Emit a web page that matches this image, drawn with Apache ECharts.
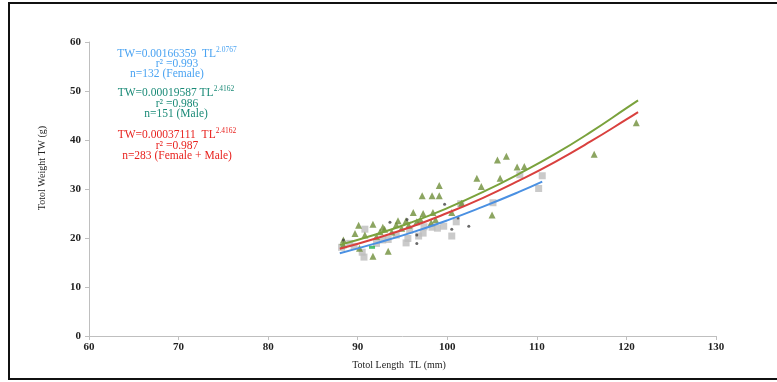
<!DOCTYPE html>
<html><head><meta charset="utf-8">
<script src="https://cdn.jsdelivr.net/npm/echarts@6/dist/echarts.min.js"></script>
<style>html,body{margin:0;padding:0;background:#fff}#c{width:777px;height:382px}</style>
</head><body><div id="c"></div>
<script>
// Data
var xTicks = [60, 70, 80, 90, 100, 110, 120, 130];
var yTicks = [0, 10, 20, 30, 40, 50, 60];

var triangles = [[88.4,18.6],[88.4,19.6],[89.7,20.9],[90.1,22.6],[90.2,17.9],[90.8,20.6],[91.7,22.8],[91.7,16.3],[92.1,20.3],[92.5,21.3],[92.8,22.2],[93.0,21.8],[93.4,17.3],[93.8,21.2],[94.3,22.7],[94.5,23.5],[94.9,22.0],[95.4,23.5],[95.7,22.6],[96.2,25.2],[96.6,23.3],[97.0,23.8],[97.2,28.6],[97.3,25.0],[98.2,23.1],[98.3,28.6],[98.4,25.2],[98.7,23.7],[99.1,28.6],[99.1,30.7],[100.5,25.2],[101.6,27.1],[103.3,32.2],[103.8,30.5],[105.0,24.7],[105.6,35.9],[105.9,32.2],[106.6,36.7],[107.8,34.5],[108.6,34.6],[116.4,37.1],[121.1,43.5]];

var squares = [[88.2,18.1],[89.1,18.9],[89.6,18.3],[90.5,17.1],[90.7,16.1],[90.8,21.8],[92.1,18.9],[92.8,19.6],[93.4,19.7],[94.3,20.6],[95.4,19.0],[95.6,19.9],[95.8,21.6],[96.8,20.4],[97.3,21.0],[97.4,22.3],[98.3,22.2],[98.9,22.0],[99.6,22.4],[100.5,20.4],[101.0,23.3],[101.5,27.0],[105.1,27.2],[108.1,32.9],[110.2,30.1],[110.6,32.7]];

var dots = [[88.4,19.6],[93.6,23.2],[95.5,23.8],[96.6,18.9],[96.6,20.6],[99.7,26.9],[100.5,21.8],[101.2,24.1],[102.4,22.4]];

var greenSquare = [[91.6,18.1]];

var curveTL = [88, 92, 96, 100, 104, 108, 112, 116, 120, 121.3];
var maleCurve = [18.6, 20.7, 23.2, 26.1, 29.4, 33.1, 37.1, 41.6, 46.5, 48.1];
var allCurve = [17.8, 19.9, 22.3, 25.1, 28.2, 31.7, 35.5, 39.7, 44.2, 45.7];
var femaleTL = [88, 92, 96, 100, 104, 108, 110.6];
var femaleCurve = [16.9, 18.9, 21.1, 23.6, 26.4, 29.4, 31.5];

function pairs(xs, ys){ return xs.map(function(x,i){ return [x, ys[i]]; }); }

var serif = '"Liberation Serif","DejaVu Serif",serif';
var chart = echarts.init(document.getElementById('c'), null, {renderer:'canvas'});

function eqText(x, y, main, sup, color){
  return {type:'text', x:x, y:y, z:10, style:{
    text:'{m|' + main + '}{s|' + sup + '}', align:'center', verticalAlign:'middle',
    rich:{ m:{fontFamily:serif, fontSize:11.5, fill:color, color:color},
           s:{fontFamily:serif, fontSize:7.5, fill:color, color:color, verticalAlign:'top', padding:[0,0,7,0]} }
  }};
}
function plainText(x, y, t, color){
  return {type:'text', x:x, y:y, z:10, style:{text:t, fontFamily:serif, fontSize:11.5, fill:color, align:'center', verticalAlign:'middle'}};
}

var blueT = '#4aa3f2', tealT = '#1a8a77', redT = '#e8231f';

chart.setOption({
  animation:false,
  backgroundColor:'#fff',
  grid:{left:89, right:61, top:42, bottom:46, containLabel:false},
  xAxis:{type:'value', min:60, max:130, interval:10,
    axisLine:{show:true, lineStyle:{color:'#bfbfbf', width:1}},
    axisTick:{show:true, length:4, lineStyle:{color:'#bfbfbf'}},
    splitLine:{show:false},
    axisLabel:{fontFamily:serif, fontSize:11, color:'#222', margin:6, fontWeight:'bold'}
  },
  yAxis:{type:'value', min:0, max:60, interval:10,
    axisLine:{show:true, lineStyle:{color:'#bfbfbf', width:1}},
    axisTick:{show:true, length:4, lineStyle:{color:'#bfbfbf'}},
    splitLine:{show:false},
    axisLabel:{fontFamily:serif, fontSize:11, color:'#222', margin:8, fontWeight:'bold'}
  },
  graphic:[
    {type:'rect', shape:{x:9, y:3, width:790, height:376}, style:{fill:'none', stroke:'#111', lineWidth:2}, z:0},
    {type:'text', x:42, y:168, rotation:Math.PI/2, style:{text:'Totol Weight TW (g)', fontFamily:serif, fontSize:10, fill:'#222', align:'center', verticalAlign:'middle'}},
    {type:'text', x:399, y:365, style:{text:'Totol Length  TL (mm)', fontFamily:serif, fontSize:10, fill:'#222', align:'center', verticalAlign:'middle'}},
    eqText(177, 54, 'TW=0.00166359  TL', '2.0767', blueT),
    plainText(177, 64, 'r\u00b2 =0.993', blueT),
    plainText(167, 74, 'n=132 (Female)', blueT),
    eqText(176, 93, 'TW=0.00019587 TL', '2.4162', tealT),
    plainText(177, 104, 'r\u00b2 =0.986', tealT),
    plainText(176, 114, 'n=151 (Male)', tealT),
    eqText(177, 135, 'TW=0.00037111  TL', '2.4162', redT),
    plainText(177, 146, 'r\u00b2 =0.987', redT),
    plainText(177, 156, 'n=283 (Female + Male)', redT)
  ],
  series:[
    {type:'scatter', data:squares, symbol:'rect', symbolSize:7, itemStyle:{color:'#bdbdbd'}, z:2},
    {type:'scatter', data:triangles, symbol:'triangle', symbolSize:7, itemStyle:{color:'#6f8f3a'}, z:3},
    {type:'scatter', data:dots, symbol:'circle', symbolSize:3, itemStyle:{color:'#444'}, z:3},
    {type:'scatter', data:greenSquare, symbol:'rect', symbolSize:[6,3], itemStyle:{color:'#22b14c'}, z:3},
    {type:'line', data:pairs(curveTL, maleCurve), smooth:true, showSymbol:false, lineStyle:{color:'#7aa23c', width:2}, z:5},
    {type:'line', data:pairs(curveTL, allCurve), smooth:true, showSymbol:false, lineStyle:{color:'#d9403e', width:2}, z:5},
    {type:'line', data:pairs(femaleTL, femaleCurve), smooth:true, showSymbol:false, lineStyle:{color:'#4a90e2', width:2}, z:5}
  ]
});
</script></body></html>
